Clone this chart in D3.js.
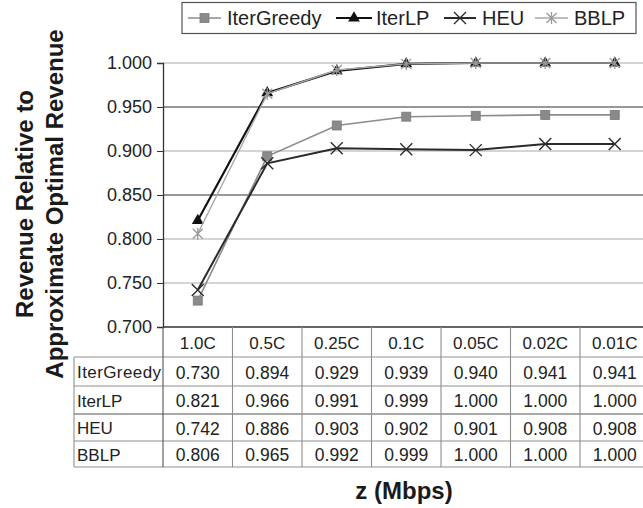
<!DOCTYPE html>
<html>
<head>
<meta charset="utf-8">
<script src="https://cdn.jsdelivr.net/npm/d3@7"></script>
<style>
  html, body { margin: 0; padding: 0; background: #fff; }
  svg { display: block; font-family: "Liberation Sans", Arial, sans-serif; }
</style>
</head>
<body>
<svg id="chart" width="643" height="508"></svg>
<script>
// Bandwidth granularity z, expressed as a fraction of capacity C
const categories = ["1.0C", "0.5C", "0.25C", "0.1C", "0.05C", "0.02C", "0.01C"];

// Revenue relative to the approximate optimal revenue, per algorithm
const iterGreedy = [0.730, 0.894, 0.929, 0.939, 0.940, 0.941, 0.941];
const iterLP     = [0.821, 0.966, 0.991, 0.999, 1.000, 1.000, 1.000];
const heu        = [0.742, 0.886, 0.903, 0.902, 0.901, 0.908, 0.908];
const bblp       = [0.806, 0.965, 0.992, 0.999, 1.000, 1.000, 1.000];

const seriesNames = ["IterGreedy", "IterLP", "HEU", "BBLP"];
const yTicks = [0.700, 0.750, 0.800, 0.850, 0.900, 0.950, 1.000];

const series = [
  { name: seriesNames[0], values: iterGreedy, stroke: "#8c8c8c", width: 1.6, marker: "square" },
  { name: seriesNames[1], values: iterLP,     stroke: "#111",    width: 2.2, marker: "triangle" },
  { name: seriesNames[2], values: heu,        stroke: "#2a2a2a", width: 2.0, marker: "cross" },
  { name: seriesNames[3], values: bblp,       stroke: "#a8a8a8", width: 1.4, marker: "star" }
];

const svg = d3.select("#chart");

const plotLeft = 163, colW = 69.5;
const x = d3.scaleBand()
  .domain(categories)
  .range([plotLeft, plotLeft + colW * categories.length])
  .paddingInner(0).paddingOuter(0);
const y = d3.scaleLinear().domain([0.7, 1.0]).range([327, 63]);

// Horizontal gridlines (two of them print darker)
const gridColor = d => (Math.abs(d - 0.95) < 1e-6 || Math.abs(d - 0.85) < 1e-6) ? "#333" : "#a9a9a9";
svg.append("g").selectAll("line")
  .data(yTicks.filter(d => d > 0.7))
  .join("line")
  .attr("x1", plotLeft).attr("x2", 643)
  .attr("y1", d => y(d)).attr("y2", d => y(d))
  .attr("stroke", gridColor)
  .attr("stroke-width", 1.2);

// Y axis
const yAxis = d3.axisLeft(y).tickValues(yTicks).tickFormat(d3.format(".3f")).tickSize(6).tickPadding(5);
const yg = svg.append("g").attr("transform", `translate(${plotLeft},0)`).call(yAxis);
yg.select(".domain").attr("stroke", "#333").attr("stroke-width", 1.3);
yg.selectAll(".tick line").attr("stroke", "#333");
yg.selectAll(".tick text").attr("font-size", 18).attr("fill", "#222")
  .attr("font-family", "Liberation Sans, Arial, sans-serif");

// Baseline at 0.700 which is also the top of the data table
svg.append("line")
  .attr("x1", plotLeft).attr("x2", 643)
  .attr("y1", y(0.7)).attr("y2", y(0.7))
  .attr("stroke", "#333").attr("stroke-width", 1.3);

// Marker shapes
function drawMarker(g, type, cx, cy, color) {
  if (type === "square") {
    g.append("rect").attr("x", cx - 4.5).attr("y", cy - 4.5).attr("width", 9).attr("height", 9)
      .attr("fill", "#8a8a8a").attr("stroke", "#7a7a7a").attr("stroke-width", 0.8);
  } else if (type === "triangle") {
    g.append("path").attr("d", d3.symbol(d3.symbolTriangle, 60)())
      .attr("transform", `translate(${cx},${cy})`).attr("fill", "#111");
  } else if (type === "cross") {
    g.append("path").attr("d", `M${cx-6},${cy-6}L${cx+6},${cy+6}M${cx-6},${cy+6}L${cx+6},${cy-6}`)
      .attr("stroke", color).attr("stroke-width", 1.4).attr("fill", "none");
  } else if (type === "star") {
    g.append("path").attr("d", `M${cx-5},${cy-5}L${cx+5},${cy+5}M${cx-5},${cy+5}L${cx+5},${cy-5}M${cx},${cy-6}L${cx},${cy+6}`)
      .attr("stroke", "#999").attr("stroke-width", 1.3).attr("fill", "none");
  }
}

const line = d3.line()
  .x((d, i) => x(categories[i]) + x.bandwidth() / 2)
  .y(d => y(d));

const plotG = svg.append("g");
series.forEach(s => {
  plotG.append("path")
    .attr("d", line(s.values))
    .attr("fill", "none")
    .attr("stroke", s.stroke)
    .attr("stroke-width", s.width);
  const mg = plotG.append("g");
  s.values.forEach((v, i) => drawMarker(mg, s.marker, x(categories[i]) + x.bandwidth() / 2, y(v), s.stroke));
});

// Data table below the plot
const headerTop = 327, headerBottom = 357;
const rowEdges = [357, 386, 414, 441, 467];
const tableLeft = 74;
const tableRight = plotLeft + colW * categories.length;
const tg = svg.append("g");
const tableStroke = "#8f8f8f";

// Horizontal rules
rowEdges.forEach((ry, i) => {
  tg.append("line")
    .attr("x1", tableLeft).attr("x2", tableRight)
    .attr("y1", ry).attr("y2", ry)
    .attr("stroke", i === 2 ? "#555" : tableStroke).attr("stroke-width", 1.1);
});
// Vertical rules
tg.append("line").attr("x1", tableLeft).attr("x2", tableLeft)
  .attr("y1", headerBottom).attr("y2", rowEdges[rowEdges.length - 1])
  .attr("stroke", tableStroke).attr("stroke-width", 1.1);
categories.forEach(c => {
  tg.append("line").attr("x1", x(c)).attr("x2", x(c))
    .attr("y1", headerTop).attr("y2", rowEdges[rowEdges.length - 1])
    .attr("stroke", x(c) === plotLeft ? "#555" : tableStroke).attr("stroke-width", 1.1);
});

// Column headers
tg.selectAll("text.col").data(categories).join("text")
  .attr("class", "col")
  .attr("x", d => x(d) + x.bandwidth() / 2)
  .attr("y", (headerTop + headerBottom) / 2 + 1)
  .attr("text-anchor", "middle").attr("dominant-baseline", "central")
  .attr("font-size", 17).attr("fill", "#222")
  .text(d => d);

// Row labels and values
series.forEach((s, r) => {
  const cy = (rowEdges[r] + rowEdges[r + 1]) / 2 + 1;
  tg.append("text")
    .attr("x", tableLeft + 3).attr("y", cy)
    .attr("dominant-baseline", "central")
    .attr("font-size", 17).attr("fill", "#222")
    .attr("textLength", s.name === "IterGreedy" ? 84 : null)
    .text(s.name);
  s.values.forEach((v, i) => {
    tg.append("text")
      .attr("x", x(categories[i]) + x.bandwidth() / 2).attr("y", cy)
      .attr("text-anchor", "middle").attr("dominant-baseline", "central")
      .attr("font-size", 17.5).attr("fill", "#222")
      .text(d3.format(".3f")(v));
  });
});

// Axis titles
const yTitle = svg.append("text")
  .attr("transform", "translate(0,204) rotate(-90)")
  .attr("text-anchor", "middle")
  .attr("font-weight", "bold").attr("font-size", 24).attr("fill", "#1a1a1a");
yTitle.append("tspan").attr("x", 0).attr("y", 33).text("Revenue Relative to");
yTitle.append("tspan").attr("x", 0).attr("y", 63).text("Approximate Optimal Revenue");

svg.append("text")
  .attr("x", 404).attr("y", 499)
  .attr("text-anchor", "middle")
  .attr("font-weight", "bold").attr("font-size", 24).attr("fill", "#1a1a1a")
  .text("z (Mbps)");

// Legend
const lg = svg.append("g");
lg.append("rect").attr("x", 182).attr("y", 2.5).attr("width", 454).attr("height", 31)
  .attr("fill", "#fff").attr("stroke", "#555").attr("stroke-width", 1.2);
const legendPos = [
  { x1: 188, x2: 221, tx: 227 },
  { x1: 336, x2: 372, tx: 376 },
  { x1: 444, x2: 476, tx: 482 },
  { x1: 535, x2: 568, tx: 574 }
];
series.forEach((s, i) => {
  const p = legendPos[i];
  const ly = 18;
  lg.append("line").attr("x1", p.x1).attr("x2", p.x2).attr("y1", ly).attr("y2", ly)
    .attr("stroke", s.stroke).attr("stroke-width", s.width);
  drawMarker(lg, s.marker, (p.x1 + p.x2) / 2, ly, s.stroke);
  lg.append("text").attr("x", p.tx).attr("y", ly).attr("dominant-baseline", "central")
    .attr("font-size", 20).attr("fill", "#222").text(s.name);
});
</script>
</body>
</html>
